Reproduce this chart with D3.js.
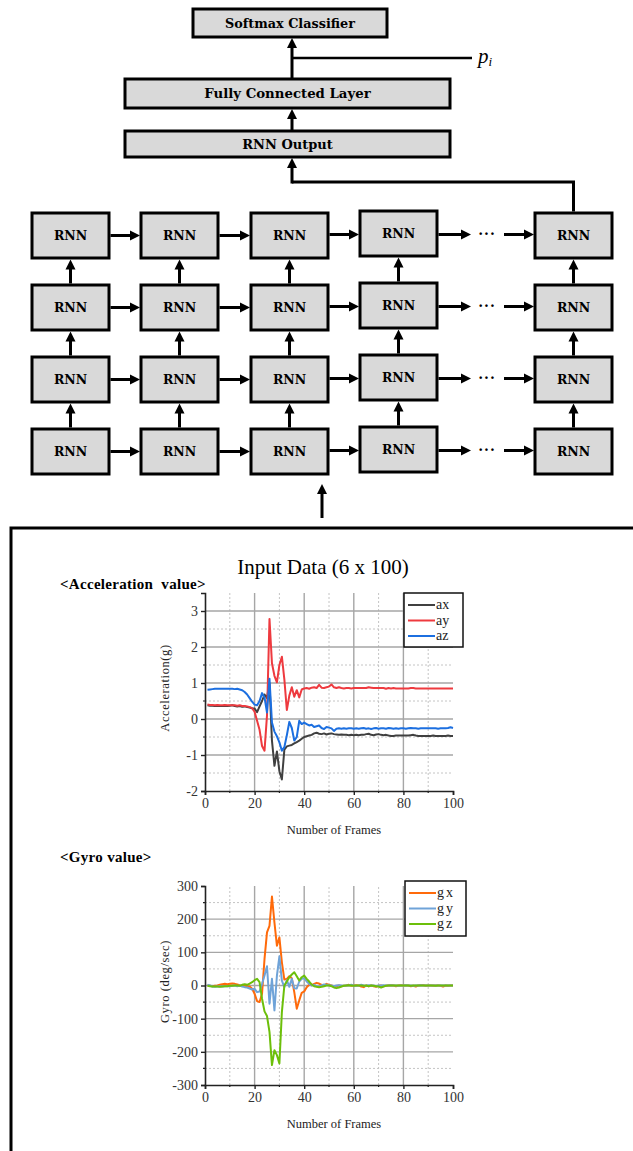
<!DOCTYPE html>
<html>
<head>
<meta charset="utf-8">
<script src="https://cdn.jsdelivr.net/npm/d3@7"></script>
<style>
  html, body { margin: 0; padding: 0; background: #fff; }
  svg { display: block; }
</style>
</head>
<body>
<svg id="fig" width="633" height="1151"></svg>
<script>
// ---- data: 100 frames, 6 channels ----
const frames = d3.range(1, 101);

const ax = [
  0.38, 0.37, 0.37, 0.36, 0.37, 0.36, 0.36, 0.37, 0.36, 0.37,
  0.38, 0.36, 0.35, 0.36, 0.34, 0.35, 0.33, 0.32, 0.30, 0.29,
  0.19, 0.35, 0.50, 0.68, 0.58, 1.00, -0.60, -1.30, -0.90, -1.45,
  -1.68, -0.85, -0.76, -0.74, -0.72, -0.68, -0.64, -0.60, -0.55, -0.50,
  -0.48, -0.46, -0.44, -0.40, -0.38, -0.41, -0.42, -0.40, -0.43, -0.41,
  -0.40, -0.42, -0.43, -0.44, -0.43, -0.44, -0.44, -0.45, -0.44, -0.45,
  -0.44, -0.45, -0.44, -0.44, -0.42, -0.41, -0.44, -0.45, -0.43, -0.42,
  -0.44, -0.45, -0.44, -0.46, -0.47, -0.47, -0.46, -0.46, -0.46, -0.46,
  -0.46, -0.46, -0.45, -0.44, -0.46, -0.47, -0.47, -0.47, -0.47, -0.47,
  -0.47, -0.46, -0.47, -0.47, -0.47, -0.47, -0.47, -0.46, -0.47, -0.47
];
const ay = [
  0.40, 0.39, 0.39, 0.38, 0.39, 0.38, 0.38, 0.39, 0.38, 0.38,
  0.38, 0.38, 0.37, 0.38, 0.36, 0.36, 0.35, 0.33, 0.30, 0.20,
  -0.05, -0.30, -0.75, -0.88, 0.10, 2.78, 1.55, 1.20, 1.02, 1.50,
  1.73, 1.10, 0.25, 0.65, 0.88, 0.62, 0.80, 0.60, 0.82, 0.85,
  0.86, 0.84, 0.87, 0.88, 0.86, 0.95, 0.87, 0.86, 0.88, 0.90,
  0.96, 0.88, 0.86, 0.88, 0.86, 0.85, 0.86, 0.86, 0.85, 0.86,
  0.86, 0.86, 0.86, 0.86, 0.86, 0.88, 0.87, 0.86, 0.86, 0.86,
  0.86, 0.86, 0.84, 0.86, 0.85, 0.86, 0.85, 0.85, 0.85, 0.85,
  0.85, 0.85, 0.86, 0.86, 0.85, 0.85, 0.85, 0.85, 0.85, 0.85,
  0.85, 0.85, 0.85, 0.85, 0.85, 0.85, 0.85, 0.85, 0.85, 0.85
];
const az = [
  0.81, 0.82, 0.83, 0.84, 0.84, 0.84, 0.84, 0.84, 0.84, 0.84,
  0.84, 0.83, 0.84, 0.82, 0.80, 0.75, 0.68, 0.58, 0.48, 0.40,
  0.38, 0.50, 0.72, 0.60, 0.18, 1.12, -0.10, -0.35, -0.48, -0.65,
  -0.88, -0.78, -0.45, -0.08, -0.25, -0.60, -0.50, -0.05, -0.14, -0.10,
  -0.14, -0.18, -0.16, -0.22, -0.20, -0.18, -0.25, -0.28, -0.22, -0.24,
  -0.26, -0.33, -0.27, -0.26, -0.27, -0.26, -0.27, -0.26, -0.26, -0.27,
  -0.26, -0.27, -0.26, -0.25, -0.27, -0.26, -0.28, -0.26, -0.25, -0.27,
  -0.26, -0.26, -0.27, -0.25, -0.26, -0.27, -0.26, -0.27, -0.26, -0.26,
  -0.27, -0.26, -0.25, -0.26, -0.26, -0.27, -0.26, -0.26, -0.26, -0.26,
  -0.26, -0.26, -0.26, -0.27, -0.26, -0.26, -0.26, -0.25, -0.23, -0.25
];

const gx = [
  0, -1, -2, -1, 0, 2, 4, 5, 4, 5,
  6, 5, 3, 1, 0, 0, -2, -3, -10, -25,
  -47, -50, -25, 80, 160, 180, 268, 190, 120, 145,
  70, 18, 20, 28, 22, -20, -70, -45, -22, -18,
  -5, 2, 1, 5, 8, 6, 2, 0, 5, 2,
  0, -4, -2, 0, -2, -1, 0, 2, -1, 0,
  1, 0, -3, -5, 0, -2, 0, -2, -4, -1,
  0, -2, -1, 0, 1, 0, -2, 0, 1, 0,
  0, 0, -2, -1, -3, 0, 1, 1, -1, 0,
  0, -1, 0, 0, -1, -3, 0, -1, 0, 0
];
const gy = [
  2, 0, -3, -4, -3, -2, -3, -2, -2, -2,
  -1, 0, -2, 0, -3, -5, -6, -9, -12, -10,
  -20, -18, 5, 30, 58, -55, 20, -75, 30, 88,
  15, -5, 16, -4, 20, -8, -9, 12, 20, 22,
  12, 5, 0, 2, -2, -4, 0, 3, 2, 0,
  0, -2, 0, 1, 0, -1, 0, 0, 2, 0,
  -1, 0, 2, 0, -1, 1, 0, 0, -2, 0,
  0, 1, 0, 0, 1, 0, 0, -1, 0, 0,
  1, 0, 0, -1, 0, 0, 1, 0, 0, 0,
  0, 0, 0, 0, 0, 0, 0, 0, 0, 0
];
const gz = [
  -1, -2, -3, -3, -3, -4, -3, -2, -2, -1,
  -1, 0, 0, -1, 2, 4, 2, 6, 10, 16,
  20, 10, -40, -78, -92, -140, -240, -195, -210, -235,
  -80, 0, 12, 25, 33, 40, 28, 15, 25, 30,
  20, 12, 3, -2, -4, -5, -4, -2, 0, 0,
  -2, -6, -8, -6, -3, -1, 0, 1, 0, -1,
  0, 0, 0, -1, 0, -2, 0, -1, -2, -3,
  -6, -3, -1, 0, 0, 0, 0, 0, 0, 0,
  0, 0, -1, 0, 0, 0, 0, 0, 0, 0,
  0, 0, -1, 0, 0, 0, 0, 0, 0, 0
];

const accTicks = [-2, -1, 0, 1, 2, 3];
const gyroTicks = [-300, -200, -100, 0, 100, 200, 300];
const frameTicks = [0, 20, 40, 60, 80, 100];

const accSeries = [
  {name: 'ax', values: ax, color: '#404040'},
  {name: 'ay', values: ay, color: '#ee3a3f'},
  {name: 'az', values: az, color: '#1c6fe0'}
];
const gyroSeries = [
  {name: 'gx', values: gx, color: '#ff6a0a'},
  {name: 'gy', values: gy, color: '#6fa3d8'},
  {name: 'gz', values: gz, color: '#6cbf0a'}
];

// ---- network diagram ----
const svg = d3.select('#fig');
const boxFont = "'DejaVu Serif', serif";
const serif = "'Liberation Serif', 'Times New Roman', serif";

function arrow(g, x1, y1, x2, y2) {
  const len = Math.hypot(x2 - x1, y2 - y1);
  const ux = (x2 - x1) / len, uy = (y2 - y1) / len;
  const head = 10, half = 5;
  g.append('line')
    .attr('x1', x1).attr('y1', y1)
    .attr('x2', x2 - ux * (head - 2)).attr('y2', y2 - uy * (head - 2))
    .attr('stroke', '#000').attr('stroke-width', 3);
  const bx = x2 - ux * head, by = y2 - uy * head;
  g.append('path')
    .attr('d', `M${x2},${y2}L${bx - uy * half},${by + ux * half}L${bx + uy * half},${by - ux * half}Z`)
    .attr('fill', '#000');
}

function box(g, b) {
  g.append('rect')
    .attr('x', b.x).attr('y', b.y)
    .attr('width', b.w).attr('height', b.h)
    .attr('fill', '#d9d9d9')
    .attr('stroke', '#000')
    .attr('stroke-width', 3);
  g.append('text')
    .attr('x', b.x + b.w / 2)
    .attr('y', b.y + b.h / 2 + 4.5)
    .attr('text-anchor', 'middle')
    .attr('font-family', boxFont)
    .attr('font-weight', 'bold')
    .attr('font-size', b.size || 12.5)
    .text(b.label);
}

const diagram = svg.append('g');

const topBoxes = [
  {label: 'Softmax Classifier', x: 193, y: 9, w: 194, h: 28, size: 12.8},
  {label: 'Fully Connected Layer', x: 125, y: 79, w: 325, h: 29, size: 13.3},
  {label: 'RNN Output', x: 125, y: 131, w: 325, h: 26, size: 13}
];
topBoxes.forEach(b => box(diagram, b));

arrow(diagram, 292, 79, 292, 38);
arrow(diagram, 292, 131, 292, 109);
diagram.append('line')
  .attr('x1', 292).attr('y1', 58).attr('x2', 472).attr('y2', 58)
  .attr('stroke', '#000').attr('stroke-width', 2.5);
const pi = diagram.append('text')
  .attr('x', 478).attr('y', 63)
  .attr('font-family', serif)
  .attr('font-style', 'italic')
  .attr('font-size', 21);
pi.append('tspan').text('p');
pi.append('tspan').attr('font-size', 13).attr('dy', 3).text('i');

const colX = [32, 141, 251, 360, 535];
const colShift = [0, 0, 0, -2, 0];
const rowY = [213, 285, 357, 429];
const boxW = 77, boxH = 45;

const cells = [];
rowY.forEach((ry, r) => colX.forEach((cx, c) => {
  cells.push({label: 'RNN', x: cx, y: ry + colShift[c], w: boxW, h: boxH, r, c});
}));
cells.forEach(b => box(diagram, b));

rowY.forEach((ry, r) => {
  for (let c = 0; c < 3; c++) {
    const yy = ry + boxH / 2 + Math.min(colShift[c], colShift[c + 1]) / 2;
    arrow(diagram, colX[c] + boxW + 1.5, yy, colX[c + 1] - 1, yy);
  }
  const yy = ry + boxH / 2 - 1;
  arrow(diagram, colX[3] + boxW + 1.5, yy, 471, yy);
  diagram.append('text')
    .attr('x', 487).attr('y', yy + 4)
    .attr('text-anchor', 'middle')
    .attr('font-family', boxFont)
    .attr('font-weight', 'bold')
    .attr('font-size', 14)
    .attr('letter-spacing', 1)
    .text('···');
  arrow(diagram, 504, yy, colX[4] - 1, yy);
});

colX.forEach((cx, c) => {
  for (let r = 0; r < 3; r++) {
    arrow(diagram, cx + boxW / 2, rowY[r + 1] + colShift[c] - 1.5,
      cx + boxW / 2, rowY[r] + boxH + colShift[c] + 1.5);
  }
});

// input arrow into the bottom row
arrow(diagram, 322, 518, 322, 484);

// last column output to RNN Output box
diagram.append('path')
  .attr('d', `M${colX[4] + boxW / 2},${rowY[0] - 1.5}V182H292`)
  .attr('fill', 'none').attr('stroke', '#000').attr('stroke-width', 3);
arrow(diagram, 292, 183.5, 292, 158);

// frame round the input data
svg.append('path')
  .attr('d', 'M633,528H11V1151')
  .attr('fill', 'none').attr('stroke', '#000').attr('stroke-width', 3);

svg.append('text')
  .attr('x', 323).attr('y', 574)
  .attr('text-anchor', 'middle')
  .attr('font-family', serif)
  .attr('font-size', 21)
  .text('Input Data (6 x 100)');

function subTitle(text, yy) {
  svg.append('text')
    .attr('x', 60).attr('y', yy)
    .attr('font-family', serif)
    .attr('font-weight', 'bold')
    .attr('font-size', 15)
    .attr('letter-spacing', 0.3)
    .style('white-space', 'pre')
    .text(text);
}
subTitle('<Acceleration  value>', 589);
subTitle('<Gyro value>', 862);

// ---- line charts ----
function drawChart(cfg) {
  const g = svg.append('g');
  const x = d3.scaleLinear().domain([0, 100]).range([205, 453]);
  const y = d3.scaleLinear().domain(cfg.domain).range([cfg.bottom, cfg.top]);

  const xMajor = [20, 40, 60, 80];
  const xMinor = [10, 30, 50, 70, 90];

  g.selectAll('.vmin').data(xMinor).join('line')
    .attr('x1', d => x(d)).attr('x2', d => x(d))
    .attr('y1', y(cfg.domain[0])).attr('y2', y(cfg.domain[1]))
    .attr('stroke', '#c4c4c4').attr('stroke-width', 1)
    .attr('stroke-dasharray', '2,2');
  g.selectAll('.hmin').data(cfg.minor).join('line')
    .attr('x1', x(0)).attr('x2', x(100))
    .attr('y1', d => y(d)).attr('y2', d => y(d))
    .attr('stroke', '#c4c4c4').attr('stroke-width', 1)
    .attr('stroke-dasharray', '2,2');
  g.selectAll('.vmaj').data(xMajor).join('line')
    .attr('x1', d => x(d)).attr('x2', d => x(d))
    .attr('y1', y(cfg.domain[0])).attr('y2', y(cfg.domain[1]))
    .attr('stroke', '#a6a6a6').attr('stroke-width', 1.4);
  g.selectAll('.hmaj').data(cfg.major).join('line')
    .attr('x1', x(0)).attr('x2', x(100))
    .attr('y1', d => y(d)).attr('y2', d => y(d))
    .attr('stroke', '#a6a6a6').attr('stroke-width', 1.4);

  const line = d3.line()
    .x((d, i) => x(frames[i]))
    .y(d => y(d));
  g.selectAll('.series').data(cfg.series).join('path')
    .attr('d', d => line(d.values))
    .attr('fill', 'none')
    .attr('stroke', d => d.color)
    .attr('stroke-width', 2)
    .attr('stroke-linejoin', 'round');

  const yAxis = g.append('g')
    .attr('transform', `translate(${x(0)},0)`)
    .call(d3.axisLeft(y).tickValues(cfg.ticks).tickSize(4).tickPadding(3)
      .tickFormat(d => String(d)));
  const xAxis = g.append('g')
    .attr('transform', `translate(0,${y(cfg.domain[0])})`)
    .call(d3.axisBottom(x).tickValues(frameTicks).tickSize(4).tickPadding(3)
      .tickFormat(d => String(d)));
  g.selectAll('.mtick').data(xMinor).join('line')
    .attr('x1', d => x(d)).attr('x2', d => x(d))
    .attr('y1', y(cfg.domain[0])).attr('y2', y(cfg.domain[0]) + 2)
    .attr('stroke', '#222').attr('stroke-width', 1.2);
  g.selectAll('.ymtick').data(cfg.minor).join('line')
    .attr('x1', x(0) - 2).attr('x2', x(0))
    .attr('y1', d => y(d)).attr('y2', d => y(d))
    .attr('stroke', '#222').attr('stroke-width', 1.2);

  [yAxis, xAxis].forEach(a => {
    a.select('.domain').attr('stroke', '#222').attr('stroke-width', 1.6);
    a.selectAll('.tick line').attr('stroke', '#222').attr('stroke-width', 1.4);
    a.selectAll('.tick text')
      .attr('font-family', serif).attr('font-size', 14).attr('fill', '#333');
  });

  g.append('text')
    .attr('x', 334).attr('y', cfg.bottom + 43)
    .attr('text-anchor', 'middle')
    .attr('font-family', serif).attr('font-size', 12.5).attr('fill', '#222')
    .text('Number of Frames');
  g.append('text')
    .attr('transform', `translate(169,${(cfg.top + cfg.bottom) / 2 - 4}) rotate(-90)`)
    .attr('text-anchor', 'middle')
    .attr('font-family', serif).attr('font-size', 12.5).attr('fill', '#222')
    .attr('letter-spacing', 0.6)
    .text(cfg.label);

  const lg = g.append('g').attr('transform', `translate(${cfg.legend[0]},${cfg.legend[1]})`);
  lg.append('rect')
    .attr('width', cfg.legend[2]).attr('height', cfg.legend[3])
    .attr('fill', '#fff').attr('stroke', '#111').attr('stroke-width', 1.5);
  const item = lg.selectAll('.item').data(cfg.series).join('g')
    .attr('transform', (d, i) => `translate(0,${12 + i * 15.5})`);
  item.append('line')
    .attr('x1', 4).attr('x2', 31)
    .attr('stroke', d => d.color).attr('stroke-width', 2);
  item.append('text')
    .attr('x', 32).attr('y', 4)
    .attr('font-family', serif).attr('font-size', 14).attr('fill', '#222')
    .attr('letter-spacing', cfg.spacing)
    .text(d => d.name);
}

drawChart({
  domain: [-2, 3.5], top: 593, bottom: 791,
  ticks: accTicks,
  major: [-1, 0, 1, 2, 3],
  minor: [-1.5, -0.5, 0.5, 1.5, 2.5],
  series: accSeries,
  label: 'Acceleration(g)',
  legend: [404, 593, 59, 54],
  spacing: 0
});

drawChart({
  domain: [-300, 300], top: 886, bottom: 1085,
  ticks: gyroTicks,
  major: [-200, -100, 0, 100, 200],
  minor: [-250, -150, -50, 50, 150, 250],
  series: gyroSeries,
  label: 'Gyro (deg/sec)',
  legend: [405, 881, 61, 55],
  spacing: 2
});
</script>
</body>
</html>
